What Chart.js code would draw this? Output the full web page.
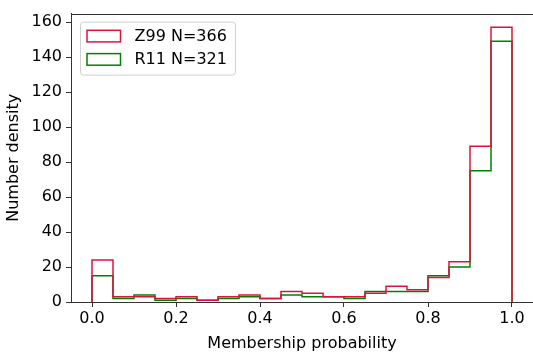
<!DOCTYPE html>
<html>
<head>
<meta charset="utf-8">
<script src="https://cdn.jsdelivr.net/npm/chart.js@4/dist/chart.umd.min.js"></script>
<style>
  html, body { margin: 0; padding: 0; background: #fff; }
  #wrap { width: 533px; height: 356px; position: relative; }
</style>
</head>
<body>
<div id="wrap"><canvas id="c"></canvas></div>
<script>
// Histogram bin edges (membership probability)
const binEdges = [0.00, 0.05, 0.10, 0.15, 0.20, 0.25, 0.30, 0.35, 0.40, 0.45,
                  0.50, 0.55, 0.60, 0.65, 0.70, 0.75, 0.80, 0.85, 0.90, 0.95, 1.00];

// Counts per bin for each catalogue
const z99Counts = [24, 3, 3, 2, 3, 1, 3, 4, 2, 6, 5, 3, 3, 5, 9, 7, 14, 23, 89, 157];
const r11Counts = [15, 2, 4, 1, 2, 1, 2, 3, 2, 4, 3, 3, 2, 6, 6, 6, 15, 20, 75, 149];

const seriesLabels = ['Z99 N=366', 'R11 N=321'];
const seriesColors = ['#dc143c', '#008000'];

const yTicks = [0, 20, 40, 60, 80, 100, 120, 140, 160];
const xTicks = [0.0, 0.2, 0.4, 0.6, 0.8, 1.0];

const FONT = 'DejaVu Sans';
const FS = 16;

// Outline of a step histogram: rise at the first edge, fall at the last
function stepOutline(edges, counts) {
  const pts = [{ x: edges[0], y: 0 }];
  for (let i = 0; i < counts.length; i++) pts.push({ x: edges[i], y: counts[i] });
  pts.push({ x: edges[edges.length - 1], y: 0 });
  return pts;
}

const datasets = [z99Counts, r11Counts].map((counts, i) => ({
  label: seriesLabels[i],
  data: stepOutline(binEdges, counts),
  borderColor: seriesColors[i],
  backgroundColor: 'rgba(0,0,0,0)',
  borderWidth: 1.5,
  stepped: 'before',
  pointRadius: 0,
  fill: false,
  tension: 0
}));

// Top edge of the plot frame
const frame = {
  id: 'frame',
  afterDatasetsDraw(chart) {
    const { ctx, chartArea: a } = chart;
    ctx.save();
    ctx.strokeStyle = '#333';
    ctx.lineWidth = 1;
    ctx.beginPath();
    ctx.moveTo(a.left, Math.round(a.top) + 0.5);
    ctx.lineTo(a.right + 5, Math.round(a.top) + 0.5);
    ctx.stroke();
    ctx.restore();
  }
};

// Boxed legend in the upper left corner of the plot
const boxLegend = {
  id: 'boxLegend',
  afterDraw(chart) {
    const { ctx, chartArea: a } = chart;
    const x = a.left + 9.5, y = a.top + 8.5, w = 155, h = 53, r = 3;
    ctx.save();
    ctx.fillStyle = 'rgba(255,255,255,0.8)';
    ctx.strokeStyle = '#d0d0d0';
    ctx.lineWidth = 1;
    ctx.beginPath();
    ctx.roundRect(x, y, w, h, r);
    ctx.fill();
    ctx.stroke();
    ctx.font = FS + 'px "' + FONT + '"';
    ctx.textBaseline = 'middle';
    ctx.fillStyle = '#000';
    chart.data.datasets.forEach((ds, i) => {
      const cy = y + 14 + i * 23.3;
      ctx.strokeStyle = ds.borderColor;
      ctx.lineWidth = 1.5;
      ctx.strokeRect(x + 6.5, cy - 5.8, 33.5, 11.6);
      ctx.fillText(ds.label, x + 54, cy + 0.5);
    });
    ctx.restore();
  }
};

new Chart(document.getElementById('c'), {
  type: 'line',
  data: { datasets },
  options: {
    responsive: true,
    maintainAspectRatio: false,
    animation: false,
    layout: { padding: { top: 2, right: 0, left: 0, bottom: 0 } },
    plugins: { legend: { display: false }, tooltip: { enabled: false } },
    scales: {
      x: {
        type: 'linear',
        min: -0.05,
        max: 1.05,
        afterFit(s) { s.height = 54; },
        afterBuildTicks(s) { s.ticks = xTicks.map(v => ({ value: v })); },
        ticks: {
          font: { family: FONT, size: FS },
          color: '#000',
          padding: 2,
          maxRotation: 0,
          callback: v => Number(v).toFixed(1)
        },
        grid: { drawOnChartArea: false, drawTicks: true, tickLength: 5, tickColor: '#333', tickWidth: 1 },
        border: { display: true, color: '#333', width: 1 },
        title: {
          display: true,
          text: 'Membership probability',
          font: { family: FONT, size: FS },
          color: '#000',
          padding: { top: 0, bottom: 3 }
        }
      },
      y: {
        type: 'linear',
        min: 0,
        max: 164.85,
        afterFit(s) { s.width = 71; },
        afterBuildTicks(s) { s.ticks = yTicks.map(v => ({ value: v })); },
        ticks: {
          font: { family: FONT, size: FS },
          color: '#000',
          padding: 4
        },
        grid: { drawOnChartArea: false, drawTicks: true, tickLength: 5, tickColor: '#333', tickWidth: 1 },
        border: { display: true, color: '#333', width: 1 },
        title: {
          display: true,
          text: 'Number density',
          font: { family: FONT, size: FS },
          color: '#000',
          padding: { top: 4, bottom: 4 }
        }
      }
    }
  },
  plugins: [frame, boxLegend]
});
</script>
</body>
</html>
